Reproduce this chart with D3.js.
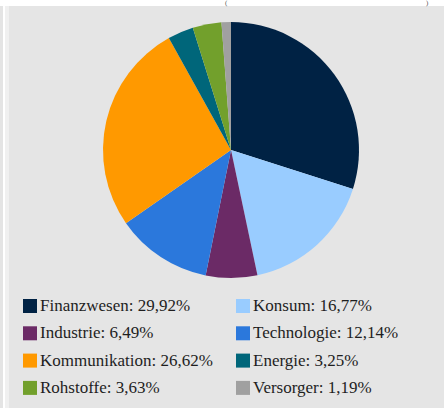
<!DOCTYPE html>
<html>
<head>
<meta charset="utf-8">
<script src="https://cdn.jsdelivr.net/npm/d3@7"></script>
<style>
  .lg { font-family: "Times New Roman"; font-size: 17px; fill: #1e1e1e; }
  .hd { font-family: "Times New Roman"; font-size: 7px; fill: #555; }
</style>
</head>
<body style="margin:0">
<svg id="chart" width="444" height="408"></svg>
<script>
// Sector weights (percent), clockwise from 12 o'clock
const sectors = ["Finanzwesen", "Konsum", "Industrie", "Technologie", "Kommunikation", "Energie", "Rohstoffe", "Versorger"];
const weights = [29.92, 16.77, 6.49, 12.14, 26.62, 3.25, 3.63, 1.19];
const colors = ["#002244", "#99ccff", "#6b2a66", "#2b78dc", "#ff9900", "#00667a", "#72a02c", "#a0a0a0"];

const svg = d3.select("#chart");
const W = 444, H = 408;

// page frame
svg.append("rect").attr("x", 0).attr("y", 0).attr("width", W).attr("height", H).attr("fill", "#ffffff");
svg.append("rect").attr("x", 0).attr("y", 6).attr("width", 3).attr("height", H - 6).attr("fill", "#e4e4e4");
svg.append("rect").attr("x", 5).attr("y", 6).attr("width", 4).attr("height", H - 6).attr("fill", "#f0f0f0");
svg.append("rect").attr("x", 9).attr("y", 6).attr("width", W - 9).attr("height", H - 6).attr("fill", "#e5e5e5");

// legend: two columns, four rows
const fmt = v => v.toFixed(2).replace(".", ",") + "%";
const colX = [23, 236], rowY0 = 299, rowStep = 27.3, sq = 14;
sectors.forEach((name, i) => {
  const x = colX[i % 2], y = rowY0 + Math.floor(i / 2) * rowStep;
  svg.append("rect").attr("x", x).attr("y", y).attr("width", sq).attr("height", sq).attr("fill", colors[i]);
  svg.append("text").attr("class", "lg").attr("x", x + sq + 3).attr("y", y + 12)
    .text(`${name}: ${fmt(weights[i])}`);
});

// pie
const cx = 231, cy = 150, r = 128;
const data = sectors.map((s, i) => ({ name: s, value: weights[i], color: colors[i] }));
const pie = d3.pie().value(d => d.value).sort(null);
const arc = d3.arc().innerRadius(0).outerRadius(r);

svg.append("g").attr("transform", `translate(${cx},${cy})`)
  .selectAll("path").data(pie(data)).join("path")
  .attr("d", arc)
  .attr("fill", d => d.data.color);

// brackets of the heading line above the panel
svg.append("text").attr("class", "hd").attr("x", 225).attr("y", 5).text("(");
svg.append("text").attr("class", "hd").attr("x", 426).attr("y", 5).text(")");
</script>
</body>
</html>
